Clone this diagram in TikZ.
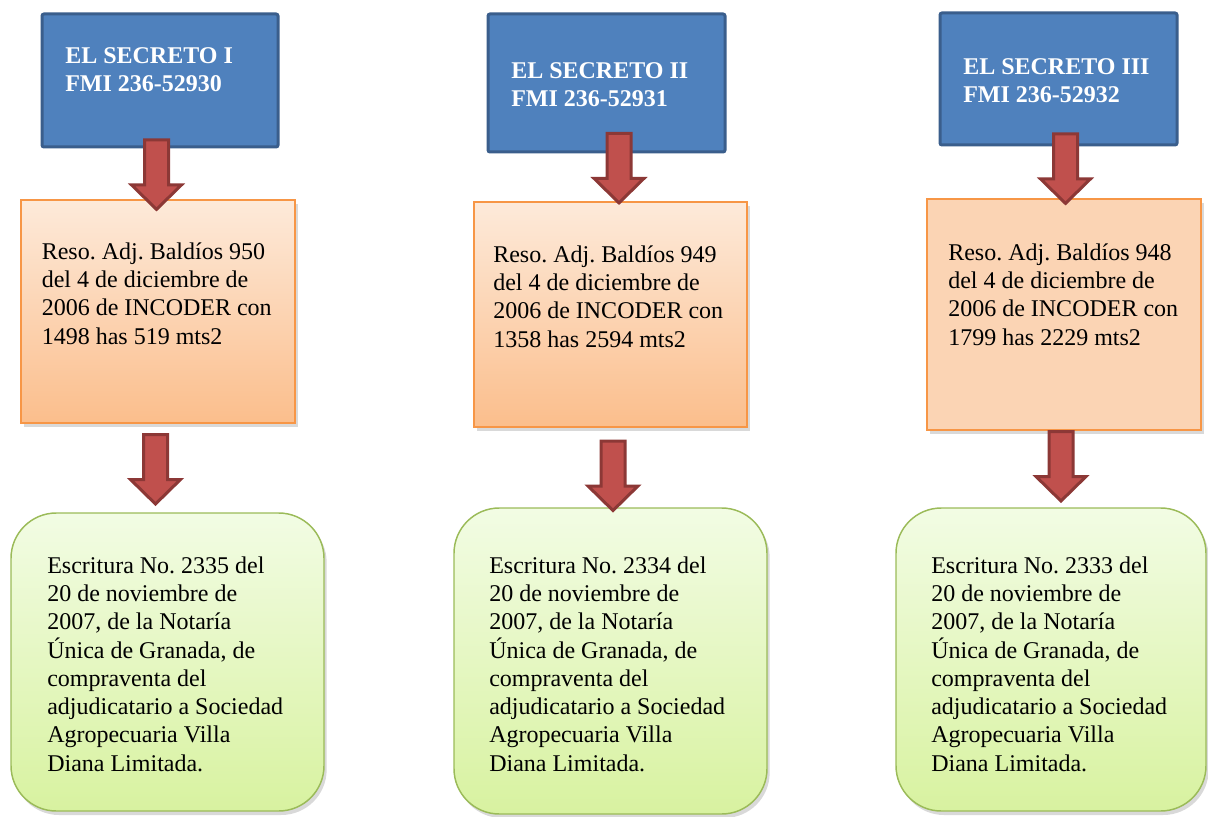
\documentclass[tikz,border=0pt]{standalone}
\usepackage{fontspec}
\setmainfont{Liberation Serif}
\usepackage{xcolor}
\usepackage{tikz}
\usetikzlibrary{calc,fit,shadows}
\frenchspacing

\definecolor{secretoBlue}{RGB}{79,129,189}
\definecolor{secretoBorder}{RGB}{58,94,140}
\definecolor{arrowRed}{RGB}{192,80,77}
\definecolor{arrowBorder}{RGB}{140,56,54}
\definecolor{resoBorder}{RGB}{247,150,70}
\definecolor{resoTop}{RGB}{253,234,218}
\definecolor{resoBottom}{RGB}{251,190,140}
\definecolor{resoFlat}{RGB}{251,212,180}
\definecolor{escBorder}{RGB}{155,187,89}
\definecolor{escTop}{RGB}{242,252,228}
\definecolor{escBottom}{RGB}{216,242,160}

\tikzset{
  titlebox/.style={draw=secretoBorder, fill=secretoBlue, line width=2.25pt, rounded corners=1.5pt, inner sep=0pt},
  resobox/.style={draw=resoBorder, line width=1.1pt, top color=resoTop, bottom color=resoBottom, inner sep=0pt,
    drop shadow={shadow xshift=2pt, shadow yshift=-3pt, opacity=0.3}},
  escbox/.style={draw=escBorder, line width=1.1pt, top color=escTop, bottom color=escBottom, rounded corners=34pt, inner sep=0pt,
    drop shadow={shadow xshift=2pt, shadow yshift=-3pt, opacity=0.3}},
  redarrow/.style={draw=arrowBorder, fill=arrowRed, line width=2.25pt},
  boxtext/.style={anchor=north west, inner sep=0pt, align=left, font=\fontsize{18}{21.2}\selectfont},
  titletext/.style={boxtext, text=white, font=\fontsize{18}{21.2}\selectfont\bfseries}
}

% block arrow between two boxes: from, to, x of the arrow, shift down
\newcommand{\fatarrow}[4]{%
  \coordinate (m) at ($(#1.south)!0.5!(#2.north)+(0,#4)$);
  \coordinate (m) at ($(#3,0)!(m)!(#3,1)$);
  \draw[redarrow] ($(m)+(-12,-35)$) -- ($(m)+(-12,10)$) -- ($(m)+(-25,10)$) -- ($(m)+(0,34.5)$)
    -- ($(m)+(25,10)$) -- ($(m)+(12,10)$) -- ($(m)+(12,-35)$) -- cycle;
}

\begin{document}
\begin{tikzpicture}[x=0.75pt,y=0.75pt,yscale=-1,xscale=1]
\useasboundingbox (0,0) rectangle (1208,817);

%Shape: Rectangle [El Secreto I]
\node [titlebox, fit={(42,14) (278,147)}] (sec1) {};
%Shape: Rectangle [El Secreto II]
\node [titlebox, fit={(488,14) (725,152)}] (sec2) {};
%Shape: Rectangle [El Secreto III]
\node [titlebox, fit={(940,13) (1177,145)}] (sec3) {};

%Shape: Rectangle [Resoluciones]
\node [resobox, fit={(21,200) (295,423)}] (reso1) {};
\node [resobox, fit={(474,202) (747,427)}] (reso2) {};
\node [resobox, top color=resoFlat, bottom color=resoFlat, fit={(927,199) (1201,430)}] (reso3) {};

%Shape: Rounded Rect [Escrituras]
\node [escbox, fit={(11,513) (324,811)}] (esc1) {};
\node [escbox, fit={(454,508) (767,814)}] (esc2) {};
\node [escbox, fit={(896,508) (1206,811)}] (esc3) {};

%Block Arrows
\fatarrow{sec1}{reso1}{156.5}{1}
\fatarrow{reso1}{esc1}{155.5}{1.5}
\fatarrow{sec2}{reso2}{619}{-9}
\fatarrow{reso2}{esc2}{613}{8.5}
\fatarrow{sec3}{reso3}{1065.5}{-3.5}
\fatarrow{reso3}{esc3}{1061}{-2.5}

% Text Node
\node [titletext] (sec1txt) at (65,47) {EL SECRETO I\\FMI 236-52930};
% Text Node
\node [titletext] (sec2txt) at (511,62) {EL SECRETO II\\FMI 236-52931};
% Text Node
\node [titletext] (sec3txt) at (963,58) {EL SECRETO III\\FMI 236-52932};

% Text Node
\node [boxtext] (reso1txt) at (41.5,242.4) {Reso. Adj. Baldíos 950\\del 4 de diciembre de\\2006 de INCODER con\\1498 has 519 mts2};
% Text Node
\node [boxtext] (reso2txt) at (493,245.4) {Reso. Adj. Baldíos 949\\del 4 de diciembre de\\2006 de INCODER con\\1358 has 2594 mts2};
% Text Node
\node [boxtext] (reso3txt) at (948,243.4) {Reso. Adj. Baldíos 948\\del 4 de diciembre de\\2006 de INCODER con\\1799 has 2229 mts2};

% Text Node
\node [boxtext] (esc1txt) at (47,556.4) {Escritura No. 2335 del\\20 de noviembre de\\2007, de la Notaría\\Única de Granada, de\\compraventa del\\adjudicatario a Sociedad\\Agropecuaria Villa\\Diana Limitada.};
% Text Node
\node [boxtext] (esc2txt) at (489,556.4) {Escritura No. 2334 del\\20 de noviembre de\\2007, de la Notaría\\Única de Granada, de\\compraventa del\\adjudicatario a Sociedad\\Agropecuaria Villa\\Diana Limitada.};
% Text Node
\node [boxtext] (esc3txt) at (931,556.4) {Escritura No. 2333 del\\20 de noviembre de\\2007, de la Notaría\\Única de Granada, de\\compraventa del\\adjudicatario a Sociedad\\Agropecuaria Villa\\Diana Limitada.};

\end{tikzpicture}
\end{document}
